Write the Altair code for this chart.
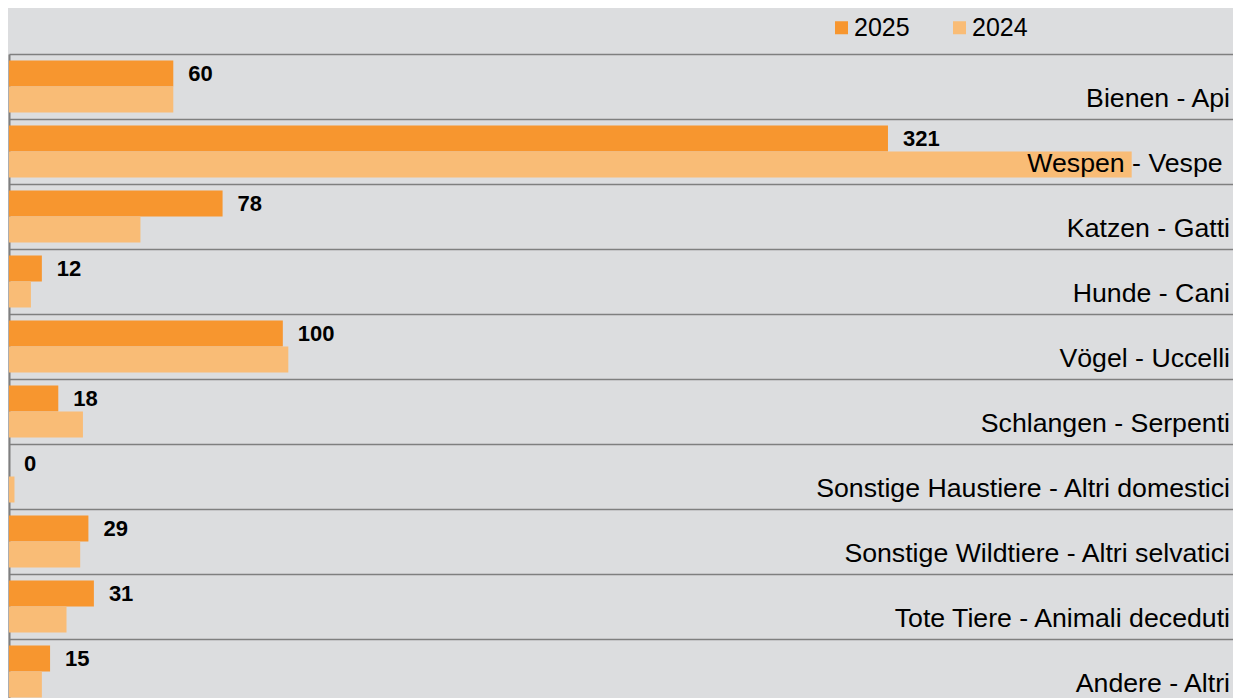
import altair as alt
import pandas as pd

categories = [
    "Bienen - Api",
    "Wespen - Vespe\u00a0\u200b",
    "Katzen - Gatti",
    "Hunde - Cani",
    "Vögel - Uccelli",
    "Schlangen - Serpenti",
    "Sonstige Haustiere - Altri domestici",
    "Sonstige Wildtiere - Altri selvatici",
    "Tote Tiere - Animali deceduti",
    "Andere - Altri",
]
values_2025 = [60, 321, 78, 12, 100, 18, 0, 29, 31, 15]
values_2024 = [60, 410, 48, 8, 102, 27, 2, 26, 21, 12]
years = ["2025", "2024"]
colors = ["#F7962F", "#F9BC76"]

rows = []
for c, a, b in zip(categories, values_2025, values_2024):
    rows.append({"cat": c, "year": "2025", "value": a})
    rows.append({"cat": c, "year": "2024", "value": b})
df = pd.DataFrame(rows)
df25 = df[df["year"] == "2025"]
cat_df = pd.DataFrame({"cat": categories, "year": ["2024"] * len(categories)})

W = 1224
FONT = "Liberation Sans"

y_scale = alt.Scale(domain=categories, range=[0, 650], paddingInner=0, paddingOuter=0)
yoff_scale = alt.Scale(domain=years, paddingInner=0, paddingOuter=0.25)
x_scale = alt.Scale(domain=[0, 447], nice=False, zero=True)
color_scale = alt.Scale(domain=years, range=colors)

y_enc = alt.Y(
    "cat:N",
    scale=y_scale,
    sort=categories,
    axis=alt.Axis(
        title=None, labels=False, ticks=False,
        domain=True, domainColor="#7f7f7f", domainWidth=2,
        grid=True, gridColor="#7f7f7f", gridWidth=1.5, bandPosition=0,
    ),
)

bars = alt.Chart(df).mark_bar().encode(
    x=alt.X("value:Q", scale=x_scale, axis=None),
    y=y_enc,
    yOffset=alt.YOffset("year:N", scale=yoff_scale, sort=years),
    color=alt.Color(
        "year:N", scale=color_scale, sort=years,
        legend=alt.Legend(
            title=None, orient="none", legendX=820, legendY=-39,
            direction="horizontal", symbolType="square", symbolSize=169,
            symbolStrokeWidth=0, labelFontSize=25, labelFont=FONT,
            labelColor="#000000", columnPadding=37, labelOffset=0,
        ),
    ),
)

value_text = alt.Chart(df25).mark_text(
    align="left", baseline="middle", dx=15, fontSize=22, fontWeight="bold",
    font=FONT, color="#000000",
).encode(
    x=alt.X("value:Q", scale=x_scale),
    y=alt.Y("cat:N", scale=y_scale, sort=categories),
    yOffset=alt.YOffset("year:N", scale=yoff_scale, sort=years),
    text=alt.Text("value:Q"),
)

cat_text = alt.Chart(cat_df).mark_text(
    align="right", baseline="alphabetic", dy=7, fontSize=26.7,
    font=FONT, color="#000000",
).encode(
    x=alt.value(1221),
    y=alt.Y("cat:N", scale=y_scale, sort=categories),
    yOffset=alt.YOffset("year:N", scale=yoff_scale, sort=years),
    text="cat:N",
)

chart = alt.layer(bars, value_text, cat_text).properties(
    width=W,
    height=650,
    autosize=alt.AutoSizeParams(type="none"),
    padding={"top": 46, "left": 1, "right": 0, "bottom": 0},
    background="#DCDDDF",
).configure_view(stroke=None)

chart.save("out.html", embed_options={"renderer": "svg", "actions": False})
